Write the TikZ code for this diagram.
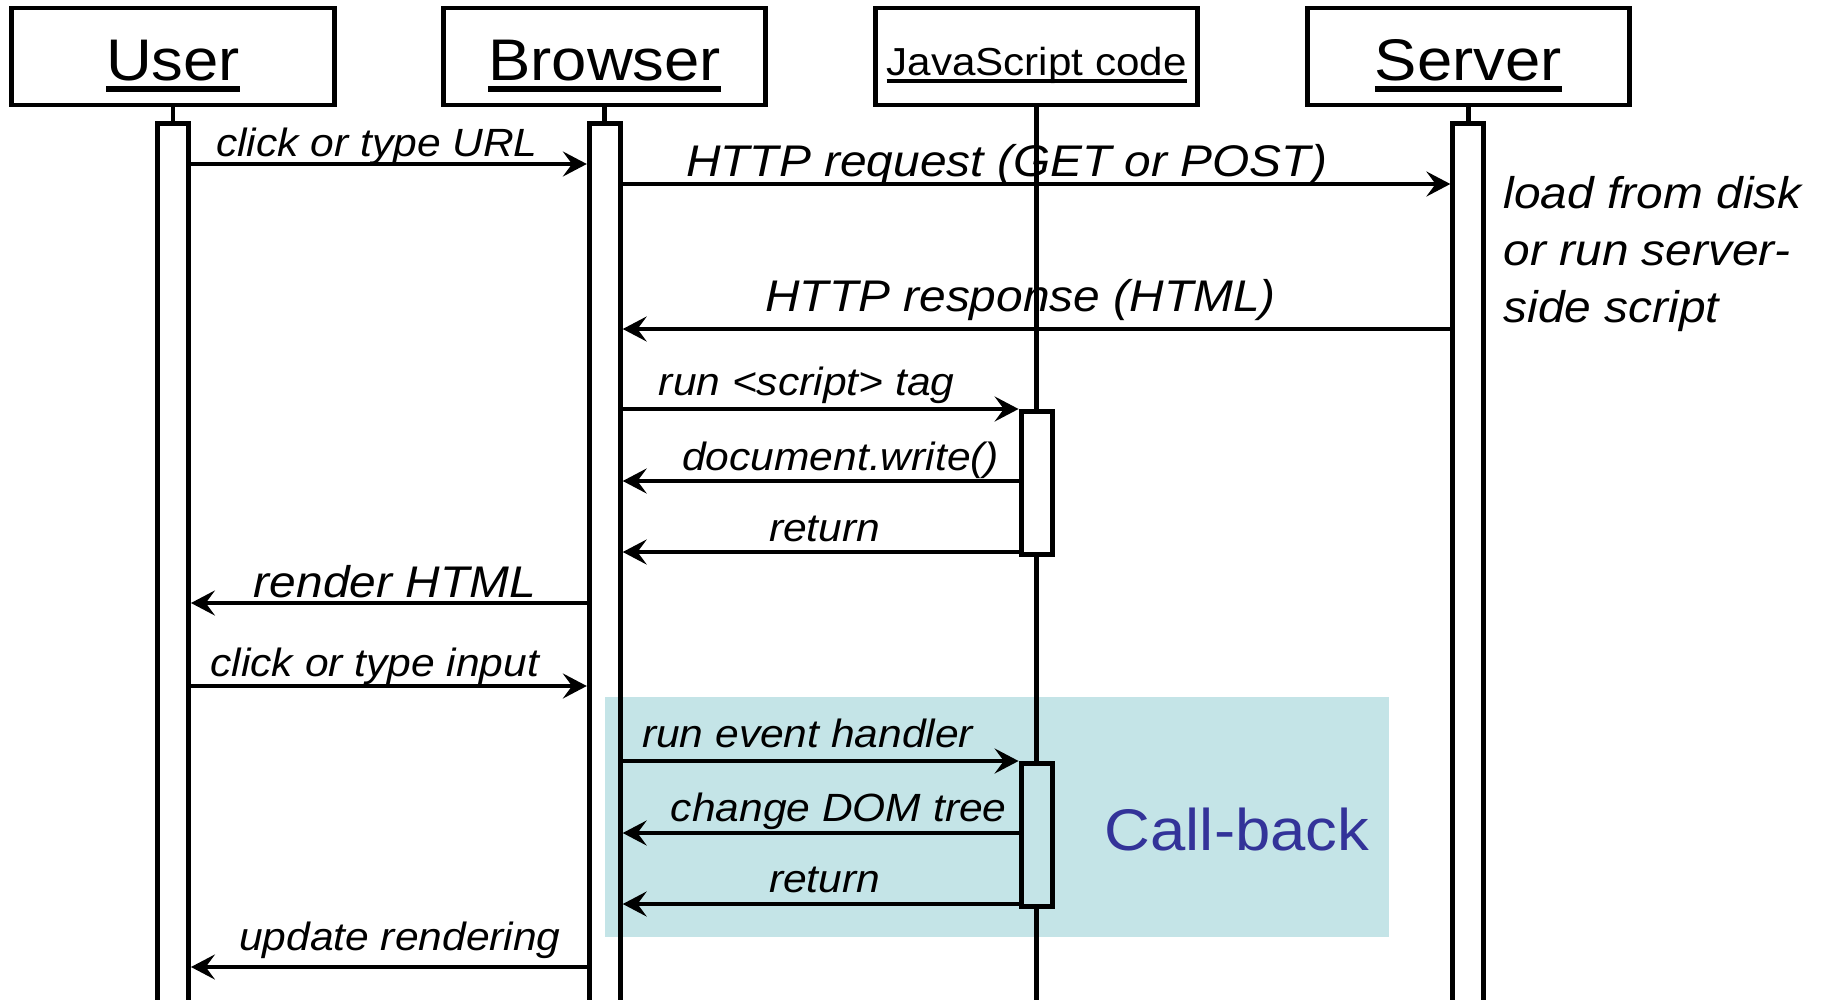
\documentclass[tikz,border=0pt]{standalone}
\usepackage{fontspec}
\setmainfont{Liberation Sans}[FakeStretch=1.08]
\usetikzlibrary{arrows.meta, positioning}
\definecolor{cbteal}{HTML}{C4E4E7}
\definecolor{cbblue}{HTML}{333399}
% underline a bit further below the baseline than \underline does
\newcommand{\uln}[1]{\setbox0\hbox{#1}\rlap{\rule[-0.19em]{\wd0}{0.09em}}\box0}

\begin{document}
\begin{tikzpicture}[x=0.01cm, y=-0.01cm, node distance=1.046cm,
    head/.style={draw, line width=1.4pt, minimum width=3.22cm, minimum height=0.97cm, inner sep=0pt, text height=1.57em, text depth=0.2em, font=\fontsize{16.7}{20}\selectfont},
    bar/.style={draw, line width=1.4pt, minimum width=0.31cm, inner sep=0pt},
    life/.style={line width=1.3pt},
    msg/.style={line width=1.4pt, -{Stealth[length=6.8pt, width=7.1pt, inset=2.6pt]}},
    lbl/.style={anchor=base, inner sep=0pt, font=\fontsize{11.2}{13}\selectfont\itshape},
    biglbl/.style={lbl, font=\fontsize{12.6}{15}\selectfont\itshape}]
\useasboundingbox (0,0) rectangle (1827,1000);

% call-back area goes underneath everything
\node[fill=cbteal, minimum width=7.84cm, minimum height=2.40cm, inner sep=0pt] (cb) at (997,817) {};
\node[text=cbblue, font=\fontsize{16.7}{20}\selectfont] (cbtxt) at (1237,829) {Call-back};

% objects
\node[head] (user) at (173,56.5) {\uln{User}};
\node[head, right=of user] (browser) {\uln{Browser}};
\node[head, right=of browser, text height=1.28em, font=\fontsize{11.1}{13}\selectfont] (js) {\uln{JavaScript code}};
\node[head, right=of js] (server) {\uln{Server}};

% activation bars
\node[bar, minimum height=8.83cm, below=0.14cm of user] (ubar) {};
\node[bar, minimum height=8.83cm, below=0.14cm of browser] (bbar) {};
\node[bar, minimum height=8.83cm, below=0.14cm of server] (sbar) {};
\foreach \n/\b in {user/ubar, browser/bbar, server/sbar}
\draw[life] (\n) -- (\b);

% message rows
\foreach \n/\y in {1/164, 2/184, 3/329, 4/409, 5/481, 6/552, 7/603, 8/686, 9/761, 10/833, 11/904, 12/967}
\coordinate (m\n) at (0,\y);
\coordinate (bottom) at (0,1003);

\node[bar, minimum height=1.43cm, anchor=north] (act1) at (js.south |- m4) {};
\node[bar, minimum height=1.43cm, anchor=north] (act2) at (js.south |- m9) {};
\draw[life] (js) -- (act1);
\draw[life] (act1) -- (act2);
\draw[life] (act2.south) -- (js.south |- bottom);

\node[lbl, font=\fontsize{12.6}{16.1}\selectfont\itshape, align=left, anchor=west] (note) at (1503,254) {load from disk\\or run server-\\side script};

% messages
\draw[msg] (ubar.east |- m1) -- node[lbl, xshift=-0.12cm, yshift=2pt] (t1) {click or type URL} (bbar.west |- m1);
\draw[msg] (bbar.east |- m2) -- node[biglbl, xshift=-0.30cm, yshift=2pt] (t2) {HTTP request (GET or POST)} (sbar.west |- m2);
\draw[msg] (sbar.west |- m3) -- node[biglbl, xshift=-0.16cm, yshift=5pt] (t3) {HTTP response (HTML)} (bbar.east |- m3);
\draw[msg] (bbar.east |- m4) -- node[lbl, xshift=-0.14cm, yshift=3.7pt] (t4) {run <script> tag} (act1.west |- m4);
\draw[msg] (act1.west |- m5) -- node[lbl, xshift=0.20cm, yshift=3.1pt] (t5) {document.write()} (bbar.east |- m5);
\draw[msg] (act1.west |- m6) -- node[lbl, xshift=0.04cm, yshift=3pt] (t6) {return} (bbar.east |- m6);
\draw[msg] (bbar.west |- m7) -- node[biglbl, xshift=0.06cm, yshift=1.7pt] (t7) {render HTML} (ubar.east |- m7);
\draw[msg] (ubar.east |- m8) -- node[lbl, xshift=-0.14cm, yshift=2.6pt] (t8) {click or type input} (bbar.west |- m8);
\draw[msg] (bbar.east |- m9) -- node[lbl, xshift=-0.13cm, yshift=3.7pt] (t9) {run event handler} (act2.west |- m9);
\draw[msg] (act2.west |- m10) -- node[lbl, xshift=0.18cm, yshift=3.4pt] (t10) {change DOM tree} (bbar.east |- m10);
\draw[msg] (act2.west |- m11) -- node[lbl, xshift=0.04cm, yshift=3.3pt] (t11) {return} (bbar.east |- m11);
\draw[msg] (bbar.west |- m12) -- node[lbl, xshift=0.11cm, yshift=4.8pt] (t12) {update rendering} (ubar.east |- m12);
\end{tikzpicture}
\end{document}
